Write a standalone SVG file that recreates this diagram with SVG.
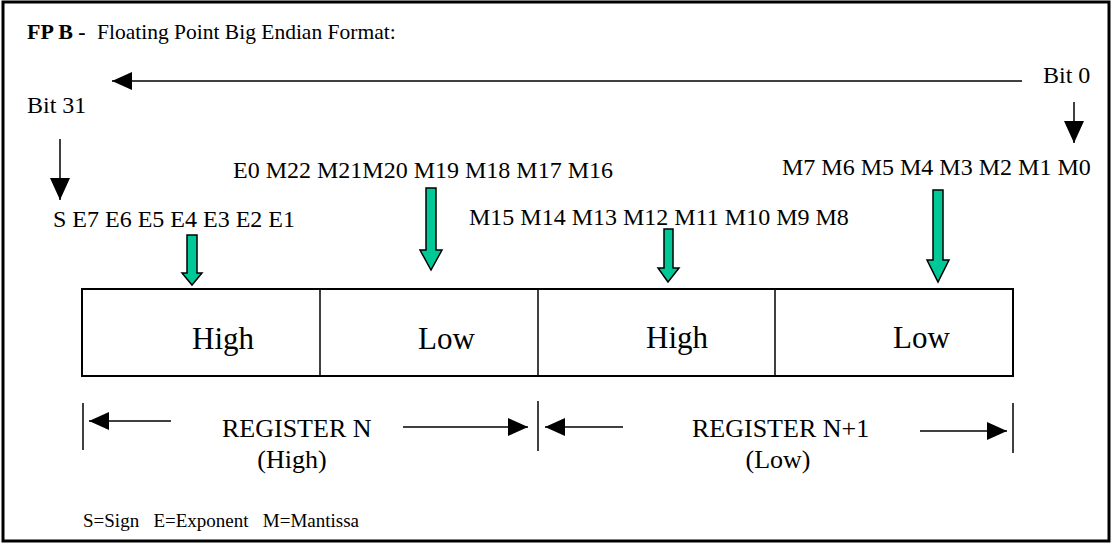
<svg xmlns="http://www.w3.org/2000/svg" width="1113" height="544" viewBox="0 0 1113 544">
<style>
text{font-family:"Liberation Serif","Times New Roman",serif;fill:#000}
.bit{font-size:24px}
.cell{font-size:31px}
.reg{font-size:26px}
.ln{stroke:#000;stroke-width:1.5;fill:none}
.bar{stroke:#000;stroke-width:1.5}
.box{fill:#fff;stroke:#000;stroke-width:2}
.ga{fill:#00C896;stroke:#000;stroke-width:1.5;stroke-linejoin:miter}
</style>
<defs>
<marker id="ah" viewBox="0 0 20 18" refX="20" refY="9" markerWidth="20" markerHeight="18" markerUnits="userSpaceOnUse" orient="auto">
<path d="M0,0 L20,9 L0,18 Z" fill="#000"/>
</marker>
<marker id="ahb" viewBox="0 0 22 20" refX="22" refY="10" markerWidth="22" markerHeight="20" markerUnits="userSpaceOnUse" orient="auto">
<path d="M0,0 L22,10 L0,20 Z" fill="#000"/>
</marker>
</defs>
<rect x="3" y="2" width="1106" height="539" fill="#fff" stroke="#000" stroke-width="3"/>
<g id="title">
<text x="27" y="39" font-size="22" font-weight="bold">FP B -</text>
<text x="97" y="39" font-size="21.5">Floating Point Big Endian Format:</text>
</g>
<g id="bit-labels">
<text x="1043" y="83" class="bit">Bit 0</text>
<text x="27" y="113" class="bit">Bit 31</text>
<text x="53" y="227" class="bit">S E7 E6 E5 E4 E3 E2 E1</text>
<text x="233" y="178" class="bit">E0 M22 M21M20 M19 M18 M17 M16</text>
<text x="469" y="225" class="bit">M15 M14 M13 M12 M11 M10 M9 M8</text>
<text x="782" y="175" class="bit">M7 M6 M5 M4 M3 M2 M1 M0</text>
</g>
<g id="registers">
<rect x="82" y="289" width="931" height="87" class="box"/>
<line x1="320" y1="289" x2="320" y2="376" class="bar" stroke-width="2"/>
<line x1="538" y1="289" x2="538" y2="376" class="bar" stroke-width="2"/>
<line x1="775" y1="289" x2="775" y2="376" class="bar" stroke-width="2"/>
<text x="192" y="349" class="cell">High</text>
<text x="418" y="349" class="cell">Low</text>
<text x="646" y="348" class="cell">High</text>
<text x="893" y="348" class="cell">Low</text>
</g>
<g id="register-labels">
<text x="222" y="437" class="reg">REGISTER N</text>
<text x="292" y="468" class="reg" text-anchor="middle">(High)</text>
<text x="692" y="437" class="reg">REGISTER N+1</text>
<text x="778" y="468" class="reg" text-anchor="middle">(Low)</text>
<text x="83" y="527" font-size="19" xml:space="preserve">S=Sign   E=Exponent   M=Mantissa</text>
</g>
<g id="connectors">
<line x1="1022" y1="81" x2="112" y2="81" class="ln" marker-end="url(#ah)"/>
<line x1="60" y1="139" x2="60" y2="200" class="ln" marker-end="url(#ahb)"/>
<line x1="1074" y1="102" x2="1074" y2="143" class="ln" marker-end="url(#ahb)"/>
<polygon class="ga" points="187,235 197,235 197,273 202,273 192,285 182,273 187,273"/>
<polygon class="ga" points="426,188 436,188 436,250 442,250 431,270 420,250 426,250"/>
<polygon class="ga" points="664,229 673,229 673,268 679,268 668,282 658,268 664,268"/>
<polygon class="ga" points="933,190 943,190 943,260 949,260 938,282 927,260 933,260"/>
<line x1="83" y1="403" x2="83" y2="450" class="bar"/>
<line x1="538" y1="401" x2="538" y2="451" class="bar"/>
<line x1="1013" y1="403" x2="1013" y2="453" class="bar"/>
<line x1="171" y1="421" x2="89" y2="421" class="ln" marker-end="url(#ah)"/>
<line x1="403" y1="427" x2="528" y2="427" class="ln" marker-end="url(#ah)"/>
<line x1="623" y1="427" x2="545" y2="427" class="ln" marker-end="url(#ah)"/>
<line x1="920" y1="431" x2="1007" y2="431" class="ln" marker-end="url(#ah)"/>
</g>
</svg>
